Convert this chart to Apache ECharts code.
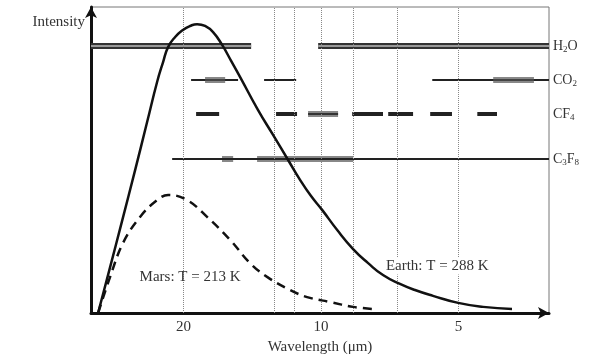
<!DOCTYPE html>
<html>
<head>
<meta charset="utf-8">
<script src="https://cdn.jsdelivr.net/npm/echarts@6/dist/echarts.min.js"></script>
<style>
  html, body { margin: 0; padding: 0; background: #fff; }
  #chart { width: 600px; height: 354px; }
</style>
</head>
<body>
<div id="chart"></div>
<script>
// wavelength (um), intensity in arbitrary units (0-100)
const earthWavelength = [30.78, 28.97, 27.27, 25.54, 24.04, 22.86, 22.18, 21.63, 20.87, 20.07, 19.36, 18.68, 17.95, 17.24, 16.47, 15.74, 15.04, 13.74, 12.74, 11.81, 11.12, 10.52, 9.95, 9.22, 8.51, 7.89, 7.32, 6.72, 6.23, 5.69, 5.01, 4.42, 3.82];
const earthIntensity = [0, 15.0, 30.1, 46.7, 62.4, 75.5, 82.0, 86.9, 90.2, 92.5, 93.8, 94.4, 93.8, 91.8, 87.6, 82.4, 77.1, 66.3, 58.2, 50.0, 43.5, 38.2, 33.7, 27.1, 20.9, 16.3, 12.4, 9.5, 7.5, 5.6, 3.3, 2.0, 1.3];
const marsWavelength = [30.78, 28.97, 27.14, 24.91, 22.86, 21.63, 19.65, 17.77, 15.82, 14.31, 13.13, 11.69, 10.73, 9.56, 8.51, 7.69];
const marsIntensity = [0, 11.8, 22.9, 31.4, 36.9, 38.6, 36.9, 31.4, 23.9, 16.3, 11.8, 7.5, 5.2, 3.6, 2.0, 1.3];

const tickValues = [20, 10, 5];
const dottedLines = [20, 12.67, 11.46, 10, 8.5, 6.82, 5];

// absorption bands: [from, to] in um
const rowNames = ['H2O', 'CO2', 'CF4', 'C3F8'];
const rowLevels = [87.3, 76.1, 65.0, 50.3];
const h2oBands = [[31.9, 14.23], [10.15, 3.17]];
const co2Thin = [[19.26, 15.2], [13.33, 11.34], [5.71, 3.17]];
const co2Strong = [[17.95, 16.22], [4.2, 3.42]];
const cf4Bands = [[18.78, 16.72], [12.55, 11.29], [8.55, 7.32], [7.13, 6.29], [5.77, 5.17], [4.55, 4.12]];
const cf4Strong = [[10.68, 9.18]];
const c3f8Thin = [[21.19, 3.17]];
const c3f8Strong = [[16.48, 15.58], [13.81, 8.51]];

const serif = '"Liberation Serif", "DejaVu Serif", serif';
const txt = '#333';

const zip = (xs, ys) => xs.map((x, i) => [x, ys[i]]);
const segs = (bands, level) => bands.map(b => ({ coords: [[b[0], level], [b[1], level]] }));
const bandSeries = (bands, level, width, color, z) => ({
    type: 'lines',
    coordinateSystem: 'cartesian2d',
    silent: true,
    z: z,
    lineStyle: { width: width, color: color, opacity: 1 },
    data: segs(bands, level)
});

const labelRich = {
    n: { fontFamily: serif, fontSize: 14, color: txt },
    s: { fontFamily: serif, fontSize: 9, color: txt, verticalAlign: 'bottom', padding: [8, 0, 0, 0] }
};
const rowText = {
    H2O: '{n|H}{s|2}{n|O}',
    CO2: '{n|CO}{s|2}',
    CF4: '{n|CF}{s|4}',
    C3F8: '{n|C}{s|3}{n|F}{s|8}'
};

const chart = echarts.init(document.getElementById('chart'));
const option = {
    animation: false,
    grid: {
        left: 91, right: 51, top: 7, bottom: 41,
        outerBoundsMode: 'none',
        show: true, borderColor: '#777', borderWidth: 1
    },
    xAxis: {
        type: 'log',
        logBase: 2,
        min: 3.17,
        max: 31.9,
        inverse: true,
        name: 'Wavelength (\u03bcm)',
        nameLocation: 'middle',
        nameGap: 23,
        nameTextStyle: { fontFamily: serif, fontSize: 15, color: txt },
        axisLine: { lineStyle: { color: '#111', width: 3 }, symbol: ['none', 'arrow'], symbolSize: [9, 11] },
        axisTick: { show: false },
        splitLine: { show: false },
        minorTick: { show: false },
        axisLabel: { customValues: tickValues, fontFamily: serif, fontSize: 15, color: txt, margin: 7 }
    },
    yAxis: [{
        type: 'value',
        min: 0,
        max: 100,
        name: 'Intensity',
        nameLocation: 'end',
        nameGap: -15,
        nameTextStyle: { fontFamily: serif, fontSize: 15, color: txt, align: 'right', verticalAlign: 'middle', padding: [0, 6, 0, 0] },
        axisLine: { show: true, lineStyle: { color: '#111', width: 3 }, symbol: ['none', 'arrow'], symbolSize: [9, 11] },
        axisTick: { show: false },
        axisLabel: { show: false },
        splitLine: { show: false }
    }, {
        type: 'value',
        min: 0,
        max: 100,
        position: 'right',
        axisLine: { show: false },
        axisTick: { show: false },
        splitLine: { show: false },
        axisLabel: {
            customValues: rowLevels,
            margin: 4,
            formatter: v => rowText[rowNames[rowLevels.indexOf(v)]],
            rich: labelRich
        }
    }],
    series: [
        {
            type: 'line',
            name: 'Earth',
            data: zip(earthWavelength, earthIntensity),
            smooth: 0.5,
            showSymbol: false,
            z: 5,
            lineStyle: { color: '#111', width: 2.5 },
            markLine: {
                silent: true,
                symbol: ['none', 'none'],
                label: { show: false },
                lineStyle: { type: 'dotted', color: '#888', width: 1 },
                data: dottedLines.map(v => ({ xAxis: v }))
            },
            markPoint: {
                symbolSize: 0,
                silent: true,
                data: [{ coord: [5.57, 15.4] }],
                label: {
                    show: true, position: 'inside', formatter: 'Earth: T = 288 K',
                    fontFamily: serif, fontSize: 15, color: txt, backgroundColor: '#fff', padding: [1, 2]
                }
            }
        },
        {
            type: 'line',
            name: 'Mars',
            data: zip(marsWavelength, marsIntensity),
            smooth: 0.4,
            showSymbol: false,
            z: 5,
            lineStyle: { color: '#111', width: 2.5, type: [9, 6] },
            markPoint: {
                symbolSize: 0,
                silent: true,
                data: [{ coord: [19.36, 11.8] }],
                label: {
                    show: true, position: 'inside', formatter: 'Mars: T = 213 K',
                    fontFamily: serif, fontSize: 15, color: txt
                }
            }
        },
        bandSeries(h2oBands, rowLevels[0], 6, '#333', 3),
        bandSeries(h2oBands, rowLevels[0], 2, '#999', 4),
        bandSeries(co2Strong, rowLevels[1], 6, '#888', 3),
        bandSeries(co2Thin, rowLevels[1], 2, '#222', 4),
        bandSeries(co2Strong, rowLevels[1], 2, '#444', 4),
        bandSeries(cf4Strong, rowLevels[2], 6, '#888', 3),
        bandSeries(cf4Strong, rowLevels[2], 2, '#333', 4),
        bandSeries(cf4Bands, rowLevels[2], 4, '#222', 3),
        bandSeries(c3f8Strong, rowLevels[3], 6, '#888', 3),
        bandSeries(c3f8Thin, rowLevels[3], 2, '#222', 4)
    ]
};
chart.setOption(option);
</script>
</body>
</html>
